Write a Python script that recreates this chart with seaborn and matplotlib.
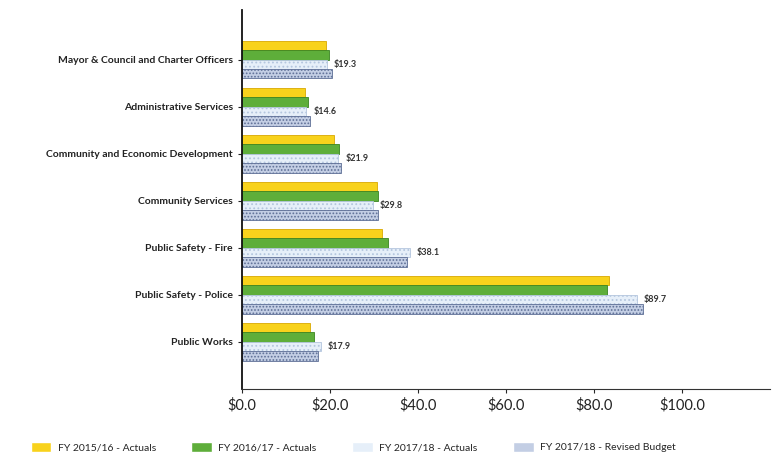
import pandas as pd
import matplotlib.pyplot as plt
import seaborn as sns

departments = [
    'Mayor & Council and Charter Officers',
    'Administrative Services',
    'Community and Economic Development',
    'Community Services',
    'Public Safety - Fire',
    'Public Safety - Police',
    'Public Works',
]
series = ['FY 2015/16 - Actuals', 'FY 2016/17 - Actuals',
          'FY 2017/18 - Actuals', 'FY 2017/18 - Revised Budget']

fy1516_actuals = [19.0, 14.3, 20.8, 30.7, 31.8, 83.4, 15.4]
fy1617_actuals = [19.8, 15.0, 22.1, 30.9, 33.1, 82.9, 16.4]
fy1718_actuals = [19.3, 14.6, 21.9, 29.8, 38.1, 89.7, 17.9]
fy1718_budget = [20.4, 15.4, 22.6, 30.9, 37.4, 91.2, 17.2]

x_ticks = [0, 20, 40, 60, 80, 100]

colors = ['#F8D21C', '#5EAE3A', '#E6EFF9', '#C3CEE4']
edges = ['#D9A800', '#3A8422', '#B4C6DE', '#5E6F96']
hatches = [None, None, '....', '.....']


def build_frame():
    values = [fy1516_actuals, fy1617_actuals, fy1718_actuals, fy1718_budget]
    rows = []
    for name, vals in zip(series, values):
        for dept, v in zip(departments, vals):
            rows.append({'Department': dept, 'Series': name, 'Value': v})
    return pd.DataFrame(rows)


def plot_chart(df):
    sns.set_style('white')
    plt.rcParams['font.family'] = ['Lato', 'DejaVu Sans']
    plt.rcParams['hatch.linewidth'] = 0.8

    fig = plt.figure(figsize=(7.76, 4.68), dpi=100)
    ax = fig.add_axes([0.312, 0.169, 0.68, 0.81])

    sns.barplot(data=df, y='Department', x='Value', hue='Series', orient='h',
                palette=colors, saturation=1, width=0.8, ax=ax, legend=True)

    for i, container in enumerate(ax.containers):
        for bar in container:
            bar.set_edgecolor(edges[i])
            bar.set_linewidth(0.6)
            if hatches[i]:
                bar.set_hatch(hatches[i])

    ax.bar_label(ax.containers[2], labels=[f'${v:.1f}' for v in fy1718_actuals],
                 padding=5, fontsize=6.5, fontweight='bold', color='#333333')

    ax.set_xlim(0, 120)
    ax.set_ylim(7.0, -1.06)
    ax.set_xticks(x_ticks)
    ax.set_xticklabels([f'${t:.1f}' for t in x_ticks], fontsize=10.5, color='#222222')
    ax.tick_params(axis='y', labelsize=7.5, colors='#222222', length=3, left=True)
    ax.tick_params(axis='x', length=3, bottom=True)
    for lbl in ax.get_yticklabels():
        lbl.set_fontweight('bold')
    ax.set_xlabel('')
    ax.set_ylabel('')
    sns.despine(ax=ax)
    ax.spines['left'].set_color('#111111')
    ax.spines['bottom'].set_color('#333333')
    ax.spines['left'].set_linewidth(1.3)

    handles, labels = ax.get_legend_handles_labels()
    ax.legend_.remove()
    fig.legend(handles, labels, loc='center', bbox_to_anchor=(0.455, 0.045),
               ncol=4, frameon=False, fontsize=7.5, handlelength=2.0,
               handleheight=1.1, handletextpad=0.6, columnspacing=3.4)

    fig.savefig('out.png', dpi=100)
    plt.close(fig)


if __name__ == '__main__':
    df = build_frame()
    plot_chart(df)
